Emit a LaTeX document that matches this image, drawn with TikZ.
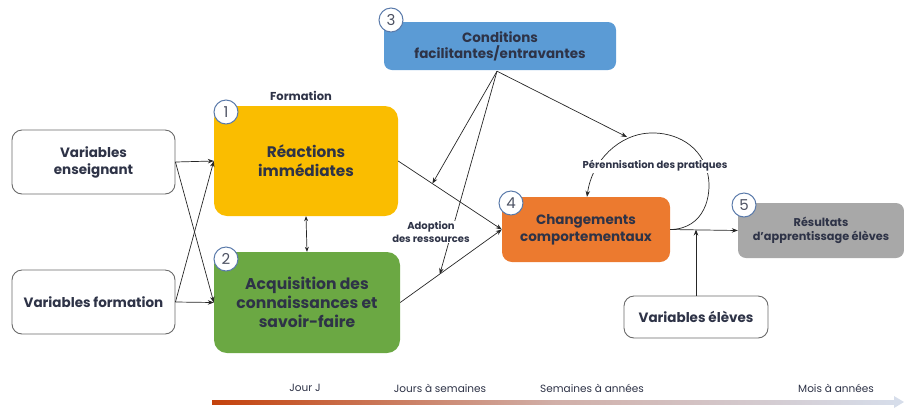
\documentclass[tikz,border=0pt]{standalone}
\usepackage{fontspec}
\setmainfont{Poppins}
\usetikzlibrary{arrows.meta,calc}
\definecolor{txt}{HTML}{2E3347}
\definecolor{cyel}{HTML}{FABD00}
\definecolor{cgrn}{HTML}{6BA843}
\definecolor{cblu}{HTML}{5B9BD5}
\definecolor{cora}{HTML}{EC7A2F}
\definecolor{cgry}{HTML}{A8A8A8}
\definecolor{cbord}{HTML}{6A6A6A}
\definecolor{ccirc}{HTML}{5A7AAA}
\definecolor{tlA}{HTML}{C4420C}
\definecolor{tlB}{HTML}{D6DDEA}
\tikzset{
  whitebox/.style={draw=cbord, line width=0.9pt, fill=white, rounded corners=10pt, align=center, text=txt, font=\bfseries\fontsize{13.5}{17}\selectfont},
  colbox/.style={rounded corners=13pt, align=center, text=txt, inner sep=0pt},
  numc/.style={circle, draw=ccirc, line width=1pt, fill=white, minimum size=24pt, inner sep=0pt, text=txt!85, font=\fontsize{15}{15}\selectfont},
  conn/.style={draw=black!85, line width=0.7pt, -{Stealth[length=6pt,width=4.5pt]}},
  lab/.style={text=txt, font=\bfseries\fontsize{10}{12.5}\selectfont, align=center},
  tl/.style={text=txt, font=\fontsize{10.5}{12}\selectfont}
}
\begin{document}
\begin{tikzpicture}[x=1pt,y=-1pt]
\useasboundingbox (0,0) rectangle (904,408);

% boxes
\node[whitebox, minimum width=163pt, minimum height=64pt] (VE) at (93.5,162) {Variables\\enseignant};
\node[whitebox, minimum width=163pt, minimum height=64pt] (VF) at (93.5,302) {Variables formation};
\node[colbox, fill=cyel, minimum width=184pt, minimum height=110pt, font=\bfseries\fontsize{15.3}{19}\selectfont] (R) at (306,161) {Réactions\\immédiates};
\node[colbox, fill=cgrn, minimum width=186pt, minimum height=101pt, font=\bfseries\fontsize{15.6}{19}\selectfont] (A) at (307,302.5) {Acquisition des\\connaissances et\\savoir-faire};
\node[colbox, rounded corners=8pt, fill=cblu, minimum width=232pt, minimum height=48pt, font=\bfseries\fontsize{13.5}{16}\selectfont] (C) at (500,46) {Conditions\\facilitantes/entravantes};
\node[colbox, rounded corners=10pt, fill=cora, minimum width=168pt, minimum height=65pt, font=\bfseries\fontsize{13.5}{17}\selectfont] (Ch) at (586,229.5) {Changements\\comportementaux};
\node[colbox, rounded corners=8pt, fill=cgry, minimum width=166pt, minimum height=55pt, font=\bfseries\fontsize{11.3}{14}\selectfont] (Res) at (821,230.5) {Résultats\\d’apprentissage élèves};
\node[whitebox, minimum width=144pt, minimum height=42pt] (VEl) at (696,317) {Variables élèves};

% number circles
\node[numc] (n1) at (226,112) {1};
\node[numc] (n2) at (226,259) {2};
\node[numc] (n3) at (391,20) {3};
\node[numc] (n4) at (511,203) {4};
\node[numc] (n5) at (744,205) {5};

\node[lab, font=\bfseries\fontsize{11.5}{13}\selectfont] (form) at (301,96) {Formation};

% left crossing arrows
\draw[conn] (VE.east) -- (R.west);
\draw[conn] (VE.east) -- (A.west);
\draw[conn] (VF.east) -- (R.west);
\draw[conn] (VF.east) -- (A.west);
\draw[draw=black!85, line width=0.7pt, {Stealth[length=5pt,width=4pt]}-{Stealth[length=5pt,width=4pt]}] (R.south) -- (A.north);

% to changements
\draw[conn] (R.east) -- (Ch.west);
\draw[conn] (A.east) -- (Ch.west);

\coordinate (p1) at ($(R.east)!0.33!(Ch.west)$);
\coordinate (p2) at ($(A.east)!0.39!(Ch.west)$);
\coordinate (ctop) at ($(C.south)+(-3,1)$);
\coordinate (looptop) at (627,137);

% loop
\draw[conn] (Ch.east) .. controls (705,229) and (712,195) .. (708,175)
   .. controls (702,145) and (675,132) .. (650,133)
   .. controls (620,134) and (592,160) .. ($(Ch.north)+(1,0)$);

\draw[conn] (ctop) -- (p1);
\draw[conn] (ctop) -- (p2);
\draw[conn] (ctop) -- (looptop);

\node[lab, fill=white, inner sep=1pt] (per) at (655,166) {Pérennisation des pratiques};
\node[lab, fill=white, inner sep=1pt] (adop) at (431,232) {Adoption\\des ressources};

% to results
\draw[conn] (Ch.east) -- (Res.west);
\coordinate (jn) at (VEl.north |- Ch.east);
\draw[conn] (VEl.north) -- (jn);

% timeline
\shade[left color=tlA, right color=tlB, middle color=tlA!30!tlB] (212,400) rectangle (896,404);
\fill[tlB] (894,396) -- (904,402) -- (894,408) -- cycle;
\node[tl] (t1) at (305,388) {Jour J};
\node[tl] (t2) at (440,388) {Jours à semaines};
\node[tl] (t3) at (592,388) {Semaines à années};
\node[tl] (t4) at (836,388) {Mois à années};
\end{tikzpicture}
\end{document}
